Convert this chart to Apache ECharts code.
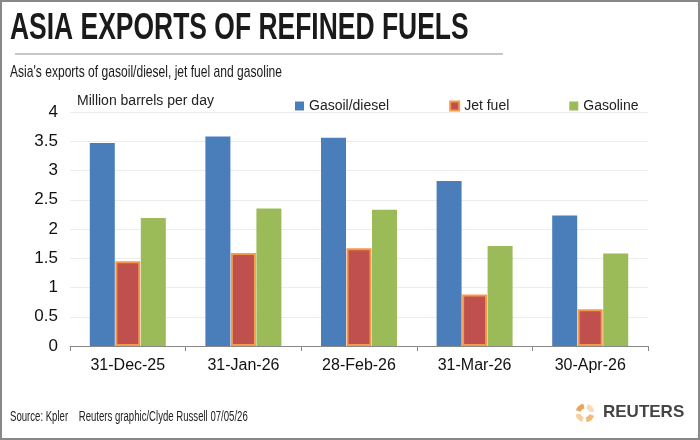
<!DOCTYPE html>
<html>
<head>
<meta charset="utf-8">
<script src="https://cdn.jsdelivr.net/npm/echarts@6/dist/echarts.min.js"></script>
<style>
  html, body { margin: 0; padding: 0; background: #fff; }
  #chart { width: 700px; height: 440px; }
</style>
</head>
<body>
<div id="chart"></div>
<script>
// 数据：月份和三种燃料出口量（百万桶/日）
const months = ['31-Dec-25', '31-Jan-26', '28-Feb-26', '31-Mar-26', '30-Apr-26'];
const gasoil = [3.47, 3.58, 3.56, 2.82, 2.23];
const jetFuel = [1.45, 1.59, 1.67, 0.88, 0.63];
const gasoline = [2.19, 2.35, 2.33, 1.71, 1.58];
const yTicks = [0, 4, 0.5]; // min, max, interval

const chart = echarts.init(document.getElementById('chart'));

// 窄字体装不上，用横向缩放代替
function narrowText(str, x, y, font, sx, color) {
  return {
    type: 'text', x: x, y: y, scaleX: sx, scaleY: 1,
    style: { text: str, fill: color || '#1a1a1a', font: font, verticalAlign: 'top', align: 'left' },
    silent: true
  };
}

// 路透社的小标志，用几段圆弧拼出来
function logoArcs(cx, cy) {
  const arcs = [];
  const cols = ['#f2b978', '#f6cfa0', '#e9a458', '#f8dcb8'];
  for (let i = 0; i < 4; i++) {
    const a = i * Math.PI / 2 + 0.3;
    arcs.push({
      type: 'arc',
      shape: { cx: cx, cy: cy, r: 7, startAngle: a, endAngle: a + 1.1 },
      style: { stroke: cols[i], lineWidth: 5, fill: null },
      silent: true
    });
  }
  return arcs;
}

const option = {
  animation: false,
  textStyle: { fontFamily: 'Liberation Sans' },
  graphic: [
    { type: 'rect', shape: { x: 1, y: 1, width: 698, height: 438 },
      style: { fill: null, stroke: '#888', lineWidth: 2 }, silent: true },
    narrowText('ASIA EXPORTS OF REFINED FUELS', 10, 10, 'bold 37px "Liberation Sans"', 0.715),
    { type: 'line', shape: { x1: 15, y1: 54, x2: 503, y2: 54 },
      style: { stroke: '#b5b5b5', lineWidth: 1.5 }, silent: true },
    narrowText("Asia's exports of gasoil/diesel, jet fuel and gasoline", 10, 64, '17px "Liberation Sans"', 0.71),
    { type: 'text', left: 77, top: 94,
      style: { text: 'Million barrels per day', fill: '#222',
               font: '14px "Liberation Sans"' } },
    narrowText('Source: Kpler    Reuters graphic/Clyde Russell 07/05/26', 10, 410, '14px "Liberation Sans"', 0.685, '#222'),
    ...logoArcs(585, 413),
    narrowText('REUTERS', 603, 404, 'bold 17px "Liberation Sans"', 1.0, '#444')
  ],
  legend: {
    top: 94,
    left: 290,
    itemWidth: 9,
    itemHeight: 9,
    itemGap: 60,
    icon: 'rect',
    textStyle: { fontSize: 14, color: '#222', fontFamily: 'Liberation Sans' },
    data: ['Gasoil/diesel', 'Jet fuel', 'Gasoline']
  },
  grid: { left: 70, right: 52, top: 112, bottom: 94 },
  xAxis: {
    type: 'category',
    data: months,
    axisLine: { lineStyle: { color: '#888' } },
    axisTick: { show: true, length: 5, lineStyle: { color: '#888' } },
    axisLabel: { color: '#111', fontSize: 16, margin: 12 }
  },
  yAxis: {
    type: 'value',
    min: yTicks[0],
    max: yTicks[1],
    interval: yTicks[2],
    axisLine: { show: false },
    axisTick: { show: false },
    axisLabel: { color: '#111', fontSize: 17, margin: 12 },
    splitLine: { lineStyle: { color: '#ececec' } }
  },
  series: [
    {
      name: 'Gasoil/diesel', type: 'bar', data: gasoil,
      barWidth: 25, barGap: '2%',
      itemStyle: { color: '#4a7ebb' }
    },
    {
      name: 'Jet fuel', type: 'bar', data: jetFuel,
      barWidth: 25, barGap: '2%',
      itemStyle: { color: '#c0504d', borderColor: '#f39a4c', borderWidth: 2 }
    },
    {
      name: 'Gasoline', type: 'bar', data: gasoline,
      barWidth: 25, barGap: '2%',
      itemStyle: { color: '#9bbb59' }
    }
  ]
};

chart.setOption(option);
</script>
</body>
</html>
